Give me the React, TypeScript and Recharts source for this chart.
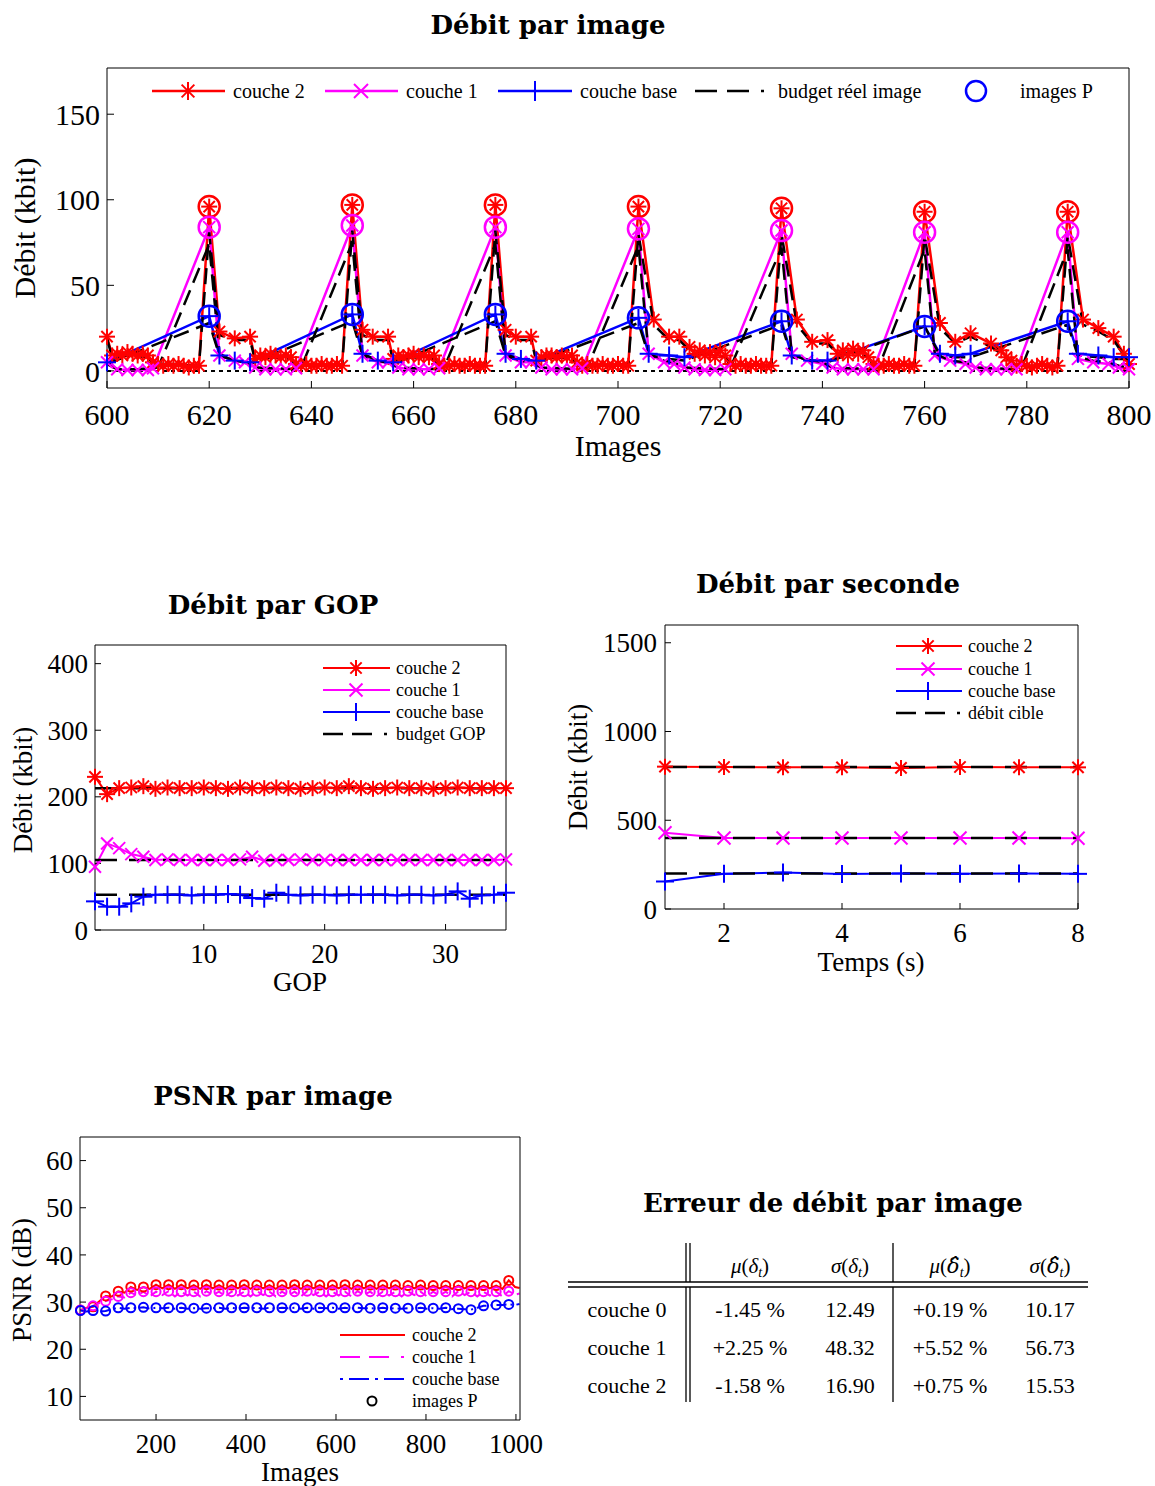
import React from 'react';
import { ComposedChart, Line, XAxis, YAxis, ReferenceLine } from 'recharts';

const RED = '#ff0000';
const MAG = '#ff00ff';
const BLUE = '#0000ff';
const SERIF = '"Liberation Serif", "Times New Roman", serif';
const BOLD = '"DejaVu Serif", serif';
const PLOT_DASH = '16 8';
const LEGEND_DASH = '22 10 22 12 3 100';

type P = [number, number];

// ---------------- Débit par image : [image, kbit] ----------------
const imgXTicks = [600, 620, 640, 660, 680, 700, 720, 740, 760, 780, 800];
const imgYTicks = [0, 50, 100, 150];
const imgPFrames = [620, 648, 676, 704, 732, 760, 788];

const c2Img: P[] = [
  [600, 20], [601, 9], [602, 10], [603, 9], [604, 11], [605, 10], [606, 9], [607, 10], [608, 9], [609, 5], [610, 4], [611, 3], [612, 4], [613, 3], [614, 4], [615, 3], [616, 2], [617, 3], [618, 3],
  [620, 96], [622, 23], [625, 19], [628, 20], [629, 7], [630, 9], [631, 8], [632, 10], [633, 9], [634, 8], [635, 9], [636, 8], [637, 4], [638, 3], [639, 4], [640, 3], [641, 3], [642, 4], [643, 3], [644, 3], [645, 4], [646, 3],
  [648, 97], [650, 24], [652, 20], [655, 20], [656, 7], [657, 9], [658, 8], [659, 9], [660, 10], [661, 8], [662, 9], [663, 8], [664, 9], [665, 4], [666, 3], [667, 3], [668, 4], [669, 3], [670, 3], [671, 4], [672, 3], [673, 3], [674, 3],
  [676, 97], [678, 24], [680, 20], [683, 20], [684, 6], [685, 8], [686, 9], [687, 9], [688, 8], [689, 9], [690, 8], [691, 9], [692, 5], [693, 3], [694, 4], [695, 3], [696, 3], [697, 4], [698, 3], [699, 3], [700, 4], [701, 3], [702, 3],
  [704, 96], [707, 30], [710, 20], [712, 20], [714, 14], [715, 10], [716, 12], [717, 9], [718, 11], [719, 8], [720, 12], [721, 9], [722, 4], [723, 3], [724, 4], [725, 3], [726, 3], [727, 4], [728, 3], [729, 3], [730, 3],
  [732, 95], [735, 30], [738, 17], [741, 18], [743, 10], [744, 12], [745, 9], [746, 13], [747, 10], [748, 12], [749, 8], [750, 4], [751, 3], [752, 3], [753, 4], [754, 3], [755, 3], [756, 4], [757, 3], [758, 3],
  [760, 93], [763, 28], [766, 17], [769, 22], [773, 16], [775, 12], [776, 8], [777, 6], [778, 3], [779, 4], [780, 3], [781, 2], [782, 3], [783, 4], [784, 3], [785, 2], [786, 3],
  [788, 93], [791, 30], [794, 25], [797, 20], [799, 10], [800, 4],
];

const c1Img: P[] = [
  [600, 5], [602, 1], [604, 0.5], [606, 0.5], [608, 0.5], [609, 1.5], [620, 84],
  [622, 9], [625, 6], [627, 5], [629, 2], [631, 1], [633, 1], [635, 1], [637, 1.5], [648, 85],
  [650, 9], [653, 5], [655, 5], [657, 2], [659, 1], [661, 1], [663, 1], [665, 1.5], [676, 84],
  [678, 9], [681, 5], [683, 5], [685, 2], [687, 1], [689, 1], [691, 1], [693, 1.5], [704, 83],
  [706, 10], [709, 5], [711, 4], [713, 2], [715, 1], [717, 0.5], [719, 0.5], [721, 1], [732, 82],
  [734, 10], [737, 6], [740, 4], [742, 2], [744, 1], [746, 1], [748, 1], [750, 1], [760, 81],
  [762, 9], [765, 6], [768, 4], [770, 2], [772, 1], [774, 1], [776, 1], [778, 1], [788, 81],
  [790, 7], [793, 5], [796, 4], [798, 2], [800, 1],
];

const c0Img: P[] = [
  [600, 5], [620, 32], [622, 9], [625, 6], [628, 5], [648, 33], [650, 10], [653, 6], [656, 5],
  [676, 33], [678, 10], [681, 7], [684, 6], [704, 31], [706, 10], [710, 9], [713, 8],
  [732, 29], [734, 9], [738, 6], [741, 6], [760, 26], [763, 10], [766, 9], [769, 10],
  [788, 29], [790, 10], [794, 9], [797, 8], [800, 8],
];

const b2Img: P[] = [
  [600, 19], [601, 8], [604, 9], [608, 8], [609, 4], [613, 4], [617, 3], [618, 3], [620, 81], [622, 21], [625, 18], [628, 18], [629, 6], [632, 8], [636, 7], [637, 3], [646, 3],
  [648, 82], [650, 21], [652, 18], [655, 18], [656, 6], [660, 8], [664, 7], [665, 3], [674, 3],
  [676, 82], [678, 21], [680, 18], [683, 18], [684, 6], [688, 8], [691, 7], [692, 3], [702, 3],
  [704, 80], [707, 27], [710, 18], [712, 18], [714, 12], [718, 10], [721, 8], [722, 3], [730, 3],
  [732, 80], [735, 27], [738, 16], [741, 16], [743, 10], [746, 11], [749, 8], [750, 3], [758, 3],
  [760, 79], [763, 25], [766, 16], [769, 20], [773, 14], [775, 10], [777, 5], [778, 3], [786, 3],
  [788, 79], [791, 27], [794, 23], [797, 18], [799, 9], [800, 5],
];

const b1Img: P[] = [
  [600, 4], [602, 1], [606, 1], [610, 2], [620, 74], [622, 10], [625, 6], [627, 5], [629, 2], [637, 1], [638, 2],
  [648, 75], [650, 10], [653, 6], [655, 5], [657, 2], [665, 1], [666, 2],
  [676, 74], [678, 10], [681, 6], [683, 5], [685, 2], [693, 1], [694, 2],
  [704, 73], [706, 10], [709, 6], [711, 5], [713, 2], [721, 1], [722, 2],
  [732, 72], [734, 10], [737, 6], [740, 5], [742, 2], [750, 1], [751, 2],
  [760, 71], [762, 10], [765, 6], [768, 5], [770, 2], [778, 1], [779, 2],
  [788, 71], [790, 8], [793, 6], [796, 5], [798, 3], [800, 2],
];

const b0Img: P[] = [
  [600, 4], [620, 28], [622, 9], [625, 6], [628, 4], [648, 29], [650, 9], [653, 6], [656, 4],
  [676, 29], [678, 9], [681, 6], [684, 5], [704, 28], [706, 9], [710, 7], [713, 6],
  [732, 27], [734, 8], [738, 6], [741, 5], [760, 26], [763, 9], [766, 8], [769, 8],
  [788, 27], [790, 9], [794, 8], [797, 7], [800, 7],
];

// ---------------- Débit par GOP ----------------
const gopX = [1, 2, 3, 4, 5, 6, 7, 8, 9, 10, 11, 12, 13, 14, 15, 16, 17, 18, 19, 20, 21, 22, 23, 24, 25, 26, 27, 28, 29, 30, 31, 32, 33, 34, 35];
const gopXTicks = [10, 20, 30];
const gopYTicks = [0, 100, 200, 300, 400];
const gopC2 = [230, 204, 213, 214, 216, 212, 214, 213, 213, 214, 213, 212, 214, 213, 213, 214, 213, 212, 213, 214, 213, 216, 213, 212, 213, 214, 213, 213, 212, 213, 214, 213, 213, 213, 213];
const gopC1 = [95, 130, 123, 114, 110, 105, 106, 105, 105, 105, 105, 105, 106, 110, 104, 105, 105, 106, 105, 105, 105, 105, 105, 105, 105, 105, 105, 105, 105, 105, 105, 105, 105, 105, 106];
const gopC0 = [43, 35, 35, 40, 50, 53, 53, 53, 52, 53, 53, 54, 53, 48, 47, 56, 53, 52, 53, 53, 52, 53, 53, 53, 53, 52, 53, 53, 52, 53, 58, 47, 52, 53, 56];
const gopBudgetC2 = 213;
const gopBudgetC1 = 105;
const gopBudgetC0 = 53;

// ---------------- Débit par seconde ----------------
const secX = [1, 2, 3, 4, 5, 6, 7, 8];
const secXTicks = [2, 4, 6, 8];
const secYTicks = [0, 500, 1000, 1500];
const secC2 = [802, 800, 798, 798, 795, 800, 798, 798];
const secC1 = [430, 400, 400, 400, 400, 400, 400, 399];
const secC0 = [155, 198, 205, 197, 200, 198, 200, 198];
const secTargetC2 = 800;
const secTargetC1 = 400;
const secTargetC0 = 200;

// ---------------- PSNR par image ----------------
const psnrXTicks = [200, 400, 600, 800, 1000];
const psnrYTicks = [10, 20, 30, 40, 50, 60];
const psnrPFrames = [32, 60, 88, 116, 144, 172, 200, 228, 256, 284, 312, 340, 368, 396, 424, 452, 480, 508, 536, 564, 592, 620, 648, 676, 704, 732, 760, 788, 816, 844, 872, 900, 928, 956, 984];
const psnrC2P = [28.3, 29.0, 31.3, 32.3, 33.2, 33.2, 33.7, 33.7, 33.7, 33.6, 33.7, 33.6, 33.6, 33.7, 33.6, 33.6, 33.6, 33.7, 33.6, 33.6, 33.6, 33.7, 33.6, 33.6, 33.6, 33.6, 33.5, 33.6, 33.5, 33.5, 33.5, 33.5, 33.5, 33.5, 34.6];
const psnrC1P = [28.3, 29.2, 30.2, 31.2, 32.0, 32.2, 32.2, 32.3, 32.2, 32.2, 32.3, 32.2, 32.2, 32.2, 32.3, 32.2, 32.2, 32.2, 32.3, 32.2, 32.2, 32.2, 32.3, 32.2, 32.2, 32.2, 32.3, 32.2, 32.2, 32.2, 32.3, 32.2, 32.2, 32.2, 32.3];
const psnrC0P = [28.2, 28.2, 28.1, 28.8, 28.8, 28.9, 28.8, 28.8, 28.8, 28.7, 28.7, 28.8, 28.8, 28.8, 28.8, 28.8, 28.8, 28.8, 28.8, 28.8, 28.8, 28.8, 28.8, 28.7, 28.8, 28.7, 28.7, 28.8, 28.7, 28.8, 28.6, 28.4, 29.2, 29.4, 29.5];
const psnrMidFrames = [46, 74, 102, 130, 158, 186, 214, 242, 270, 298, 326, 354, 382, 410, 438, 466, 494, 522, 550, 578, 606, 634, 662, 690, 718, 746, 774, 802, 830, 858, 886, 914, 942, 970, 998, 1008];
const psnrC2Mid = [28.8, 30.2, 31.2, 32.0, 32.6, 32.8, 32.9, 32.8, 32.9, 32.8, 32.9, 32.8, 32.9, 32.8, 32.9, 32.8, 32.9, 32.8, 32.9, 32.8, 32.9, 32.8, 32.9, 32.8, 32.9, 32.8, 32.9, 32.8, 32.9, 32.8, 32.9, 32.8, 32.9, 32.8, 33.2, 33.0];
const psnrC1Mid = [28.7, 29.8, 30.6, 31.0, 31.4, 31.2, 31.5, 31.2, 31.4, 31.2, 31.5, 31.2, 31.4, 31.2, 31.5, 31.2, 31.4, 31.2, 31.5, 31.2, 31.4, 31.2, 31.5, 31.2, 31.4, 31.2, 31.5, 31.2, 31.4, 31.2, 31.5, 31.2, 31.4, 31.2, 31.6, 31.8];
const psnrC0Mid = [28.0, 28.0, 28.5, 28.6, 28.7, 28.6, 28.7, 28.6, 28.6, 28.6, 28.7, 28.6, 28.6, 28.7, 28.6, 28.6, 28.7, 28.6, 28.6, 28.7, 28.6, 28.6, 28.7, 28.6, 28.6, 28.6, 28.6, 28.6, 28.6, 28.5, 28.5, 28.8, 29.3, 29.4, 29.4, 29.6];

// ---------------- Erreur de débit par image (table) ----------------
const tableRows = ['couche 0', 'couche 1', 'couche 2'];
const muDelta = ['-1.45 %', '+2.25 %', '-1.58 %'];
const sigmaDelta = ['12.49', '48.32', '16.90'];
const muDeltaHat = ['+0.19 %', '+5.52 %', '+0.75 %'];
const sigmaDeltaHat = ['10.17', '56.73', '15.53'];

// ---------------- helpers ----------------
const toPts = (a: P[]) => a.map(([x, y]) => ({ x, y }));
const pOnly = (a: P[]) => toPts(a.filter(([x]) => imgPFrames.includes(x)));
const zipXY = (xs: number[], ys: number[]) => xs.map((x, i) => ({ x, y: ys[i] }));

const psnrRows = [
  ...psnrPFrames.map((x, i) => ({ x, c2: psnrC2P[i], c1: psnrC1P[i], c0: psnrC0P[i] })),
  ...psnrMidFrames.map((x, i) => ({ x, c2: psnrC2Mid[i], c1: psnrC1Mid[i], c0: psnrC0Mid[i] })),
].sort((a, b) => a.x - b.x);
const psnrPRows = psnrPFrames.map((x, i) => ({ x, c2: psnrC2P[i], c1: psnrC1P[i], c0: psnrC0P[i] }));

function Asterisk({ cx, cy, r, color, sw }: any) {
  const d = r * 0.7071;
  return (
    <g stroke={color} strokeWidth={sw} fill="none">
      <line x1={cx - r} y1={cy} x2={cx + r} y2={cy} />
      <line x1={cx} y1={cy - r} x2={cx} y2={cy + r} />
      <line x1={cx - d} y1={cy - d} x2={cx + d} y2={cy + d} />
      <line x1={cx - d} y1={cy + d} x2={cx + d} y2={cy - d} />
    </g>
  );
}
function Cross({ cx, cy, r, color, sw }: any) {
  return (
    <g stroke={color} strokeWidth={sw} fill="none">
      <line x1={cx - r} y1={cy - r} x2={cx + r} y2={cy + r} />
      <line x1={cx - r} y1={cy + r} x2={cx + r} y2={cy - r} />
    </g>
  );
}
function Plus({ cx, cy, r, color, sw }: any) {
  return (
    <g stroke={color} strokeWidth={sw} fill="none">
      <line x1={cx - r} y1={cy} x2={cx + r} y2={cy} />
      <line x1={cx} y1={cy - r} x2={cx} y2={cy + r} />
    </g>
  );
}
function Ring({ cx, cy, r, color, sw }: any) {
  return <circle cx={cx} cy={cy} r={r} stroke={color} strokeWidth={sw} fill="none" />;
}

const dotOf = (Shape: any, color: string, r: number, sw: number) => (props: any) => {
  const { cx, cy, index } = props;
  if (typeof cx !== 'number' || typeof cy !== 'number' || isNaN(cy)) return <g key={`e${index}`} />;
  return <Shape key={`d${index}`} cx={cx} cy={cy} r={r} color={color} sw={sw} />;
};

const tickFont = (s: number) => ({ fontSize: s, fill: '#000', fontFamily: SERIF });

function ImageChart() {
  return (
    <ComposedChart width={1155} height={470} margin={{ top: 67, right: 25, bottom: 42, left: 57 }}>
      <XAxis xAxisId="b" type="number" dataKey="x" domain={[600, 800]} ticks={imgXTicks} interval={0} height={40} tickSize={-7} tickMargin={23} tick={tickFont(30)} stroke="#000" />
      <XAxis xAxisId="t" orientation="top" type="number" dataKey="x" domain={[600, 800]} ticks={imgXTicks} interval={0} height={1} tickSize={-7} tick={false} stroke="#000" />
      <YAxis yAxisId="l" type="number" domain={[-10, 177]} ticks={imgYTicks} interval={0} width={50} tickSize={-7} tickMargin={14} tick={tickFont(30)} stroke="#000" />
      <YAxis yAxisId="r" orientation="right" type="number" domain={[-10, 177]} ticks={imgYTicks} interval={0} width={1} tickSize={-7} tick={false} stroke="#000" />
      <ReferenceLine xAxisId="b" yAxisId="l" y={0} stroke="#000" strokeWidth={2} strokeDasharray="4 4" />
      <Line xAxisId="b" yAxisId="l" data={toPts(c2Img)} dataKey="y" stroke={RED} strokeWidth={2.5} dot={dotOf(Asterisk, RED, 8, 2)} activeDot={false} isAnimationActive={false} />
      <Line xAxisId="b" yAxisId="l" data={toPts(c1Img)} dataKey="y" stroke={MAG} strokeWidth={2.5} dot={dotOf(Cross, MAG, 6, 2)} activeDot={false} isAnimationActive={false} />
      <Line xAxisId="b" yAxisId="l" data={toPts(c0Img)} dataKey="y" stroke={BLUE} strokeWidth={2.5} dot={dotOf(Plus, BLUE, 9, 2)} activeDot={false} isAnimationActive={false} />
      <Line xAxisId="b" yAxisId="l" data={toPts(b2Img)} dataKey="y" stroke="#000" strokeWidth={2.5} strokeDasharray={PLOT_DASH} dot={false} activeDot={false} isAnimationActive={false} />
      <Line xAxisId="b" yAxisId="l" data={toPts(b1Img)} dataKey="y" stroke="#000" strokeWidth={2.5} strokeDasharray={PLOT_DASH} dot={false} activeDot={false} isAnimationActive={false} />
      <Line xAxisId="b" yAxisId="l" data={toPts(b0Img)} dataKey="y" stroke="#000" strokeWidth={2.5} strokeDasharray={PLOT_DASH} dot={false} activeDot={false} isAnimationActive={false} />
      <Line xAxisId="b" yAxisId="l" data={pOnly(c2Img)} dataKey="y" stroke="none" dot={dotOf(Ring, RED, 10.5, 2.5)} activeDot={false} isAnimationActive={false} />
      <Line xAxisId="b" yAxisId="l" data={pOnly(c1Img)} dataKey="y" stroke="none" dot={dotOf(Ring, MAG, 10.5, 2.5)} activeDot={false} isAnimationActive={false} />
      <Line xAxisId="b" yAxisId="l" data={pOnly(c0Img)} dataKey="y" stroke="none" dot={dotOf(Ring, BLUE, 10.5, 2.5)} activeDot={false} isAnimationActive={false} />
    </ComposedChart>
  );
}

function GopChart() {
  return (
    <ComposedChart width={560} height={460} margin={{ top: 84, right: 53, bottom: 50, left: 45 }}>
      <XAxis xAxisId="b" type="number" dataKey="x" domain={[1, 35]} ticks={gopXTicks} interval={0} height={40} tickSize={-6} tickMargin={20} tick={tickFont(27)} stroke="#000" />
      <XAxis xAxisId="t" orientation="top" type="number" dataKey="x" domain={[1, 35]} ticks={gopXTicks} interval={0} height={1} tickSize={-6} tick={false} stroke="#000" />
      <YAxis yAxisId="l" type="number" domain={[0, 428]} ticks={gopYTicks} interval={0} width={50} tickSize={-6} tickMargin={13} tick={tickFont(27)} stroke="#000" />
      <YAxis yAxisId="r" orientation="right" type="number" domain={[0, 428]} ticks={gopYTicks} interval={0} width={1} tickSize={-6} tick={false} stroke="#000" />
      <Line xAxisId="b" yAxisId="l" data={zipXY(gopX, gopC2)} dataKey="y" stroke={RED} strokeWidth={2} dot={dotOf(Asterisk, RED, 8, 2)} activeDot={false} isAnimationActive={false} />
      <Line xAxisId="b" yAxisId="l" data={zipXY(gopX, gopC1)} dataKey="y" stroke={MAG} strokeWidth={2} dot={dotOf(Cross, MAG, 6, 2)} activeDot={false} isAnimationActive={false} />
      <Line xAxisId="b" yAxisId="l" data={zipXY(gopX, gopC0)} dataKey="y" stroke={BLUE} strokeWidth={2} dot={dotOf(Plus, BLUE, 9, 2)} activeDot={false} isAnimationActive={false} />
      <ReferenceLine xAxisId="b" yAxisId="l" y={gopBudgetC2} stroke="#000" strokeWidth={2.5} strokeDasharray="22 12" />
      <ReferenceLine xAxisId="b" yAxisId="l" y={gopBudgetC1} stroke="#000" strokeWidth={2.5} strokeDasharray="22 12" />
      <ReferenceLine xAxisId="b" yAxisId="l" y={gopBudgetC0} stroke="#000" strokeWidth={2.5} strokeDasharray="22 12" />
    </ComposedChart>
  );
}

function SecChart() {
  return (
    <ComposedChart width={595} height={460} margin={{ top: 64, right: 76, bottom: 71, left: 55 }}>
      <XAxis xAxisId="b" type="number" dataKey="x" domain={[1, 8]} ticks={secXTicks} interval={0} height={40} tickSize={-6} tickMargin={20} tick={tickFont(27)} stroke="#000" />
      <XAxis xAxisId="t" orientation="top" type="number" dataKey="x" domain={[1, 8]} ticks={secXTicks} interval={0} height={1} tickSize={-6} tick={false} stroke="#000" />
      <YAxis yAxisId="l" type="number" domain={[0, 1600]} ticks={secYTicks} interval={0} width={50} tickSize={-6} tickMargin={14} tick={tickFont(27)} stroke="#000" />
      <YAxis yAxisId="r" orientation="right" type="number" domain={[0, 1600]} ticks={secYTicks} interval={0} width={1} tickSize={-6} tick={false} stroke="#000" />
      <Line xAxisId="b" yAxisId="l" data={zipXY(secX, secC2)} dataKey="y" stroke={RED} strokeWidth={2} dot={dotOf(Asterisk, RED, 8, 2)} activeDot={false} isAnimationActive={false} />
      <Line xAxisId="b" yAxisId="l" data={zipXY(secX, secC1)} dataKey="y" stroke={MAG} strokeWidth={2} dot={dotOf(Cross, MAG, 6.5, 2)} activeDot={false} isAnimationActive={false} />
      <Line xAxisId="b" yAxisId="l" data={zipXY(secX, secC0)} dataKey="y" stroke={BLUE} strokeWidth={2} dot={dotOf(Plus, BLUE, 9, 2)} activeDot={false} isAnimationActive={false} />
      <ReferenceLine xAxisId="b" yAxisId="l" y={secTargetC2} stroke="#000" strokeWidth={2.5} strokeDasharray="22 12" />
      <ReferenceLine xAxisId="b" yAxisId="l" y={secTargetC1} stroke="#000" strokeWidth={2.5} strokeDasharray="22 12" />
      <ReferenceLine xAxisId="b" yAxisId="l" y={secTargetC0} stroke="#000" strokeWidth={2.5} strokeDasharray="22 12" />
    </ComposedChart>
  );
}

function PsnrChart() {
  return (
    <ComposedChart width={560} height={406} data={psnrRows} margin={{ top: 56, right: 39, bottom: 26, left: 30 }}>
      <XAxis xAxisId="b" type="number" dataKey="x" domain={[31, 1009]} ticks={psnrXTicks} interval={0} height={40} tickSize={-6} tickMargin={20} tick={tickFont(27)} stroke="#000" />
      <XAxis xAxisId="t" orientation="top" type="number" dataKey="x" domain={[31, 1009]} ticks={psnrXTicks} interval={0} height={1} tickSize={-6} tick={false} stroke="#000" />
      <YAxis yAxisId="l" type="number" domain={[5, 65]} ticks={psnrYTicks} interval={0} width={50} tickSize={-6} tickMargin={13} tick={tickFont(27)} stroke="#000" />
      <YAxis yAxisId="r" orientation="right" type="number" domain={[5, 65]} ticks={psnrYTicks} interval={0} width={1} tickSize={-6} tick={false} stroke="#000" />
      <Line xAxisId="b" yAxisId="l" dataKey="c2" stroke={RED} strokeWidth={2} dot={false} activeDot={false} isAnimationActive={false} />
      <Line xAxisId="b" yAxisId="l" dataKey="c1" stroke={MAG} strokeWidth={2} strokeDasharray="8 5" dot={false} activeDot={false} isAnimationActive={false} />
      <Line xAxisId="b" yAxisId="l" dataKey="c0" stroke={BLUE} strokeWidth={2} strokeDasharray="10 4 2 4" dot={false} activeDot={false} isAnimationActive={false} />
      <Line xAxisId="b" yAxisId="l" data={psnrPRows} dataKey="c2" stroke="none" dot={dotOf(Ring, RED, 4.5, 2)} activeDot={false} isAnimationActive={false} />
      <Line xAxisId="b" yAxisId="l" data={psnrPRows} dataKey="c1" stroke="none" dot={dotOf(Ring, MAG, 4.5, 2)} activeDot={false} isAnimationActive={false} />
      <Line xAxisId="b" yAxisId="l" data={psnrPRows} dataKey="c0" stroke="none" dot={dotOf(Ring, BLUE, 4.5, 2)} activeDot={false} isAnimationActive={false} />
    </ComposedChart>
  );
}

function LegendRow({ y, x1, x2, mx, tx, color, dash, Marker, mr, label, fs, sw = 2.5 }: any) {
  return (
    <g>
      {x1 != null && <line x1={x1} x2={x2} y1={y} y2={y} stroke={color} strokeWidth={sw} strokeDasharray={dash} />}
      {Marker && <Marker cx={mx} cy={y} r={mr} color={color} sw={2} />}
      <text x={tx} y={y + fs * 0.33} fontFamily={SERIF} fontSize={fs} fill="#000">{label}</text>
    </g>
  );
}

function DeltaHead({ x, sym, hat }: any) {
  return (
    <text x={x} y={1273} textAnchor="middle" fontFamily={SERIF} fontSize={21} fill="#000">
      <tspan fontStyle="italic">{sym}</tspan>
      <tspan>(</tspan>
      <tspan fontStyle="italic" fontFamily={hat ? BOLD.replace('', '') : SERIF} fontWeight="normal">{hat ? 'δ\u0302' : 'δ'}</tspan>
      <tspan fontStyle="italic" fontSize={14} dy={4}>t</tspan>
      <tspan dy={-4}>)</tspan>
    </text>
  );
}

function Overlay() {
  const title = (x: number, y: number, s: string) => (
    <text x={x} y={y} textAnchor="middle" fontFamily={BOLD} fontWeight="bold" fontSize={26} fill="#000">{s}</text>
  );
  const label = (x: number, y: number, s: string, fs: number, rot = false) => (
    <text transform={`translate(${x},${y})${rot ? ' rotate(-90)' : ''}`} textAnchor="middle" fontFamily={SERIF} fontSize={fs} fill="#000">{s}</text>
  );
  const rowsY = [1317, 1355, 1393];
  return (
    <svg width={1155} height={1486} style={{ position: 'absolute', left: 0, top: 0, pointerEvents: 'none' }}>
      {title(548, 34, 'Débit par image')}
      {title(273, 614, 'Débit par GOP')}
      {title(828, 593, 'Débit par seconde')}
      {title(273, 1105, 'PSNR par image')}
      {title(833, 1212, 'Erreur de débit par image')}

      {label(618, 456, 'Images', 30)}
      {label(35, 228, 'Débit (kbit)', 30, true)}
      {label(300, 991, 'GOP', 27)}
      {label(32, 790, 'Débit (kbit)', 27, true)}
      {label(871, 971, 'Temps (s)', 27)}
      {label(587, 767, 'Débit (kbit)', 27, true)}
      {label(300, 1481, 'Images', 27)}
      {label(31, 1280, 'PSNR (dB)', 27, true)}

      {/* legend: débit par image */}
      <LegendRow y={91} x1={152} x2={225} mx={188} tx={233} color={RED} Marker={Asterisk} mr={9} label="couche 2" fs={20} />
      <LegendRow y={91} x1={325} x2={398} mx={361} tx={406} color={MAG} Marker={Cross} mr={7} label="couche 1" fs={20} />
      <LegendRow y={91} x1={498} x2={572} mx={535} tx={580} color={BLUE} Marker={Plus} mr={10} label="couche base" fs={20} />
      <LegendRow y={91} x1={695} x2={770} tx={778} color="#000" dash={LEGEND_DASH} label="budget réel image" fs={20} />
      <Ring cx={976} cy={91} r={10} color={BLUE} sw={2.5} />
      <text x={1020} y={98} fontFamily={SERIF} fontSize={20} fill="#000">images P</text>

      {/* legend: GOP */}
      <LegendRow y={668} x1={323} x2={390} mx={356} tx={396} color={RED} Marker={Asterisk} mr={8} label="couche 2" fs={18} sw={2} />
      <LegendRow y={690} x1={323} x2={390} mx={356} tx={396} color={MAG} Marker={Cross} mr={6.5} label="couche 1" fs={18} sw={2} />
      <LegendRow y={712} x1={323} x2={390} mx={356} tx={396} color={BLUE} Marker={Plus} mr={9} label="couche base" fs={18} sw={2} />
      <LegendRow y={734} x1={323} x2={390} tx={396} color="#000" dash="20 9 20 12 3 100" label="budget GOP" fs={18} />

      {/* legend: seconde */}
      <LegendRow y={646} x1={896} x2={962} mx={928} tx={968} color={RED} Marker={Asterisk} mr={8} label="couche 2" fs={18} sw={2} />
      <LegendRow y={669} x1={896} x2={962} mx={928} tx={968} color={MAG} Marker={Cross} mr={6.5} label="couche 1" fs={18} sw={2} />
      <LegendRow y={691} x1={896} x2={962} mx={928} tx={968} color={BLUE} Marker={Plus} mr={9} label="couche base" fs={18} sw={2} />
      <LegendRow y={713} x1={896} x2={962} tx={968} color="#000" dash="20 9 20 12 3 100" label="débit cible" fs={18} />

      {/* legend: PSNR */}
      <LegendRow y={1335} x1={340} x2={405} tx={412} color={RED} label="couche 2" fs={18} sw={2} />
      <LegendRow y={1357} x1={340} x2={405} tx={412} color={MAG} dash="20 9 20 12 3 100" label="couche 1" fs={18} sw={2} />
      <LegendRow y={1379} x1={340} x2={405} tx={412} color={BLUE} dash="3 6 20 6 3 6 20 100" label="couche base" fs={18} sw={2} />
      <LegendRow y={1401} mx={372} tx={412} color="#000" Marker={Ring} mr={4.5} label="images P" fs={18} />

      {/* table */}
      <DeltaHead x={750} sym="μ" />
      <DeltaHead x={850} sym="σ" />
      <DeltaHead x={950} sym="μ" hat />
      <DeltaHead x={1050} sym="σ" hat />
      <line x1={568} x2={1088} y1={1282} y2={1282} stroke="#000" strokeWidth={1.3} />
      <line x1={568} x2={1088} y1={1287} y2={1287} stroke="#000" strokeWidth={1.3} />
      {[686, 690, 893].map((x) => (
        <g key={x}>
          <line x1={x} x2={x} y1={1243} y2={1282} stroke="#000" strokeWidth={1.3} />
          <line x1={x} x2={x} y1={1287} y2={1402} stroke="#000" strokeWidth={1.3} />
        </g>
      ))}
      {tableRows.map((r, i) => (
        <g key={r} fontFamily={SERIF} fontSize={22} fill="#000">
          <text x={627} y={rowsY[i]} textAnchor="middle">{r}</text>
          <text x={750} y={rowsY[i]} textAnchor="middle">{muDelta[i]}</text>
          <text x={850} y={rowsY[i]} textAnchor="middle">{sigmaDelta[i]}</text>
          <text x={950} y={rowsY[i]} textAnchor="middle">{muDeltaHat[i]}</text>
          <text x={1050} y={rowsY[i]} textAnchor="middle">{sigmaDeltaHat[i]}</text>
        </g>
      ))}
    </svg>
  );
}

export default function App() {
  return (
    <div style={{ position: 'absolute', left: 0, top: 0, width: 1155, height: 1486, background: '#fff', overflow: 'hidden' }}>
      <div style={{ position: 'absolute', left: 0, top: 0 }}><ImageChart /></div>
      <div style={{ position: 'absolute', left: 0, top: 560 }}><GopChart /></div>
      <div style={{ position: 'absolute', left: 560, top: 560 }}><SecChart /></div>
      <div style={{ position: 'absolute', left: 0, top: 1080 }}><PsnrChart /></div>
      <Overlay />
    </div>
  );
}
